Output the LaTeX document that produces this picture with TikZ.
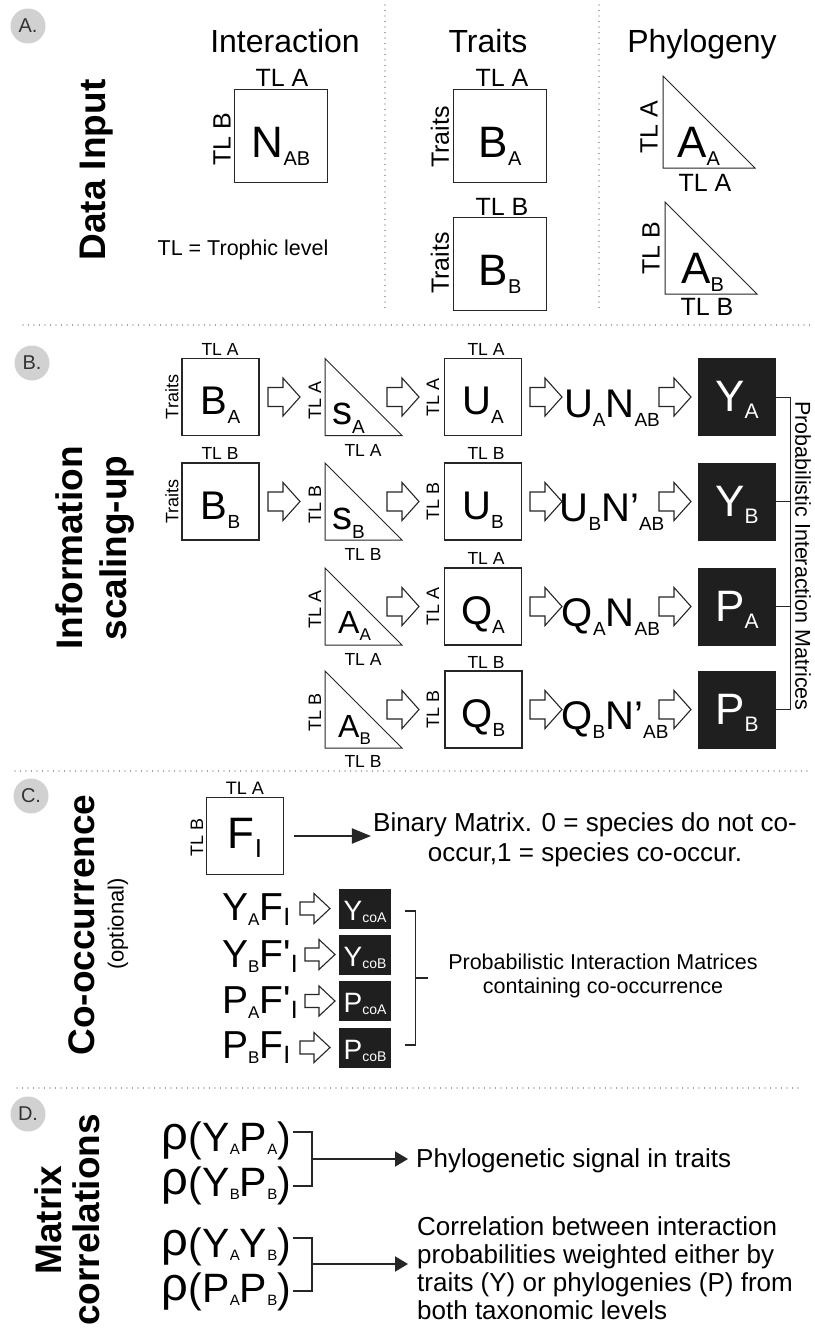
\documentclass[tikz,border=0pt]{standalone}
\usepackage{fontspec}
\setmainfont{Liberation Sans}
\usetikzlibrary{arrows.meta}

\newcommand\mxs[5]{{\fontsize{#1}{#1}\selectfont #4}\raisebox{-#3pt}{\fontsize{#2}{#2}\selectfont #5}}
\newcommand\mxA[2]{\mxs{44}{20}{8}{#1}{#2}}
\newcommand\mxB[2]{\mxs{40}{19}{9}{#1}{#2}}
\newcommand\mxK[2]{\mxs{44}{21}{7}{#1}{#2}}
\newcommand\mxT[2]{\mxs{32}{17}{7}{#1}{#2}}
\newcommand\mxF[2]{\mxs{44}{26}{9}{#1}{#2}}
\newcommand\mxC[2]{\mxs{39}{17}{5}{#1}{#2}}
\newcommand\mxCI[2]{\mxs{39}{25}{5}{#1}{#2}}
\newcommand\mxS[2]{\mxs{28}{14}{2}{#1}{#2}}
\newcommand\mxR[2]{\mxs{41}{15}{3}{#1}{#2}}
\newcommand\rhobig{\raisebox{2pt}{\fontsize{47}{47}\selectfont ρ}\kern1pt}

\tikzset{
  fs/.style={font=\fontsize{#1}{#1}\selectfont},
  fsl/.style 2 args={font=\fontsize{#1}{#2}\selectfont},
  tl/.style={font=\fontsize{#1}{#1}\selectfont, inner sep=0pt},
  sectitle/.style={font=\fontsize{37}{37}\selectfont\bfseries, rotate=90, inner sep=0pt},
  panel/.style={circle, fill=black!18, minimum size=35pt, inner sep=0pt, text=black!80, font=\fontsize{20}{20}\selectfont},
  mbox/.style={draw=black!85, line width=1.1pt, minimum size=#1, inner sep=0pt, text depth=0pt},
  blk/.style={fill=black!88, minimum size=#1, inner sep=0pt, text=white, text depth=0pt},
  sblk/.style={fill=black!88, minimum width=52pt, minimum height=40pt, inner sep=0pt, text=white, text depth=0pt, text height=23pt},
  lab/.style={anchor=base west, inner sep=0pt},
  harr/.style={draw=black!85, line width=1.1pt, fill=white, line join=miter},
  trip/.style={draw=black!85, line width=1pt, line join=miter},
  dots/.style={draw=black!70, line width=1.4pt, line cap=round, dash pattern=on 0pt off 5.5pt},
  brk/.style={draw=black!85, line width=#1},
  pics/bigarrow/.style={code={\draw[harr] (0,-9.5) -- (15,-9.5) -- (15,-19) -- (32,0) -- (15,19) -- (15,9.5) -- (0,9.5) -- cycle;}},
  pics/smallarrow/.style={code={\draw[harr] (0,-6.5) -- (14,-6.5) -- (14,-15) -- (30,0) -- (14,15) -- (14,6.5) -- (0,6.5) -- cycle;}},
  pics/tri/.style={code={\draw[trip] (0,0) -- (0,#1) -- (#1,#1) -- cycle;}},
}

\begin{document}
\begin{tikzpicture}[x=1pt, y=-1pt]
  \useasboundingbox (0,0) rectangle (814,1328);

  % A. data input
  \node[panel] (circA) at (28,26) {A.};
  \node[sectitle] (tdata) at (97,170) {Data Input};
  \node[fs=32] (hint) at (285,41) {Interaction};
  \node[fs=32] (htr) at (488,41) {Traits};
  \node[fs=32] (hph) at (702,44) {Phylogeny};

  \node[mbox=93, text height=42pt] (nab) at (281,136) {\mxA{N}{AB}};
  \node[tl=25] (nabt) at (282,78) {TL A};
  \node[tl=25, rotate=90] (nabl) at (222,139) {TL B};
  \node[fs=21.5] (tldef) at (243,250) {TL = Trophic level};

  \node[mbox=93, text height=42pt] (ba) at (500,136) {\mxA{B}{A}};
  \node[tl=25] (bat) at (502,78) {TL A};
  \node[tl=25, rotate=90] (bal) at (440,137) {Traits};
  \node[mbox=93, text height=42pt] (bb) at (500,264) {\mxA{B}{B}};
  \node[tl=25] (bbt) at (502,207) {TL B};
  \node[tl=25, rotate=90] (bbl) at (440,263) {Traits};

  \pic at (663,76) {tri=92};
  \node[lab] (aa) at (677,157) {\mxA{A}{A}};
  \node[tl=25, rotate=90] (aal) at (649,127) {TL A};
  \node[tl=25] (aab) at (705,183) {TL A};
  \pic at (665,202) {tri=92};
  \node[lab] (ab) at (681,283) {\mxA{A}{B}};
  \node[tl=25, rotate=90] (abl) at (651,248) {TL B};
  \node[tl=25] (abb) at (707,307) {TL B};

  \draw[dots] (385,5) -- (385,310);
  \draw[dots] (599,5) -- (599,310);
  \draw[dots] (23,325) -- (810,325);

  % B. information scaling-up
  \node[panel] (circB) at (32,363) {B.};
  \node[sectitle] (tinf) at (69,548) {Information};
  \node[sectitle] (tscal) at (117,548) {scaling-up};

  \node[mbox=77, text height=35pt] (ba1) at (220.5,397) {\mxB{B}{A}};
  \node[tl=17.5] (ba1t) at (220,349) {TL A};
  \node[tl=18, rotate=90] (ba1l) at (172,397) {Traits};
  \pic at (268,397) {bigarrow};
  \pic at (325,358.5) {tri=77};
  \node[tl=18, rotate=90] (sal) at (315,400) {TL A};
  \node[tl=17.5] (sab) at (363,450) {TL A};
  \node[lab] (sa) at (332,424) {\mxB{s}{A}};
  \pic at (387,397) {bigarrow};
  \node[mbox=77, text height=35pt] (ua) at (483,397) {\mxB{U}{A}};
  \node[tl=17.5] (uat) at (486,349) {TL A};
  \node[tl=18, rotate=90] (ual) at (433,397) {TL A};
  \pic at (530,397) {bigarrow};
  \node[anchor=base, inner sep=0pt] (uan) at (612,417) {\mxB{U}{A}\mxB{N}{AB}};
  \pic at (659,397) {bigarrow};
  \node[blk=78, text height=29pt] (ya) at (737,397) {\mxK{Y}{A}};

  \node[mbox=77, text height=35pt] (bb1) at (220.5,501.5) {\mxB{B}{B}};
  \node[tl=17.5] (bb1t) at (220,453) {TL B};
  \node[tl=18, rotate=90] (bb1l) at (172,501.5) {Traits};
  \pic at (268,501.5) {bigarrow};
  \pic at (325,463) {tri=77};
  \node[tl=18, rotate=90] (sbl) at (315,504.5) {TL B};
  \node[tl=17.5] (sbb) at (363,554) {TL B};
  \node[lab] (sb) at (332,529) {\mxB{s}{B}};
  \pic at (387,501.5) {bigarrow};
  \node[mbox=77, text height=35pt] (ub) at (483,501.5) {\mxB{U}{B}};
  \node[tl=17.5] (ubt) at (486,453) {TL B};
  \node[tl=18, rotate=90] (ubl) at (433,501.5) {TL B};
  \pic at (530,501.5) {bigarrow};
  \node[anchor=base, inner sep=0pt] (ubn) at (612,521.5) {\mxB{U}{B}\mxB{N’}{AB}};
  \pic at (659,501.5) {bigarrow};
  \node[blk=78, text height=29pt] (yb) at (737,501.5) {\mxK{Y}{B}};

  \pic at (325,568) {tri=77};
  \node[tl=18, rotate=90] (aa1l) at (315,609) {TL A};
  \node[tl=17.5] (aa1b) at (363,659) {TL A};
  \node[lab] (aa1) at (338,633) {\mxT{A}{A}};
  \pic at (387,606.5) {bigarrow};
  \node[mbox=77, text height=35pt] (qa) at (483,606.5) {\mxB{Q}{A}};
  \node[tl=17.5] (qat) at (486,558) {TL A};
  \node[tl=18, rotate=90] (qal) at (433,606.5) {TL A};
  \pic at (530,606.5) {bigarrow};
  \node[anchor=base, inner sep=0pt] (qan) at (611,626.5) {\mxB{Q}{A}\mxB{N}{AB}};
  \pic at (659,606.5) {bigarrow};
  \node[blk=78, text height=29pt] (pa1) at (737,606.5) {\mxK{P}{A}};

  \pic at (325,671) {tri=77};
  \node[tl=18, rotate=90] (ab1l) at (315,712) {TL B};
  \node[tl=17.5] (ab1b) at (363,761) {TL B};
  \node[lab] (ab1) at (338,737) {\mxT{A}{B}};
  \pic at (387,709.5) {bigarrow};
  \node[mbox=77, text height=35pt] (qb) at (483.5,709.5) {\mxB{Q}{B}};
  \node[tl=17.5] (qbt) at (486,662) {TL B};
  \node[tl=18, rotate=90] (qbl) at (433,709.5) {TL B};
  \pic at (530,709.5) {bigarrow};
  \node[anchor=base, inner sep=0pt] (qbn) at (615,729.5) {\mxB{Q}{B}\mxB{N’}{AB}};
  \pic at (659,709.5) {bigarrow};
  \node[blk=78, text height=29pt] (pb1) at (737,709.5) {\mxK{P}{B}};

  \draw[brk=1pt] (ya.east) -- ++(14,0) |- (pb1.east);
  \draw[brk=1pt] (yb.east) -- ++(14,0);
  \draw[brk=1pt] (pa1.east) -- ++(14,0);
  \node[fs=21.5, rotate=-90, inner sep=0pt] (pim) at (803,556) {Probabilistic Interaction Matrices};

  \draw[dots] (15,771) -- (812,771);

  % C. co-occurrence
  \node[panel] (circC) at (31,796) {C.};
  \node[sectitle] (tco) at (82,925) {Co-occurrence};
  \node[fs=22, rotate=90, inner sep=0pt] (topt) at (118,924) {(optional)};

  \node[mbox=77, text height=24pt] (fi) at (245,836) {\mxF{F}{I}};
  \node[tl=18] (fit) at (245,788) {TL A};
  \node[tl=18, rotate=90] (fil) at (197,837) {TL B};
  \node[fsl={26}{30}, align=center, inner sep=0pt] (bin) at (585,840) {Binary Matrix. 0 = species do not co-\\occur,1 = species co-occur.};
  \draw[brk=2pt, -{Triangle[length=19pt, width=15pt]}, shorten <=10pt, shorten >=2pt] (fi.east) -- (fi.east -| bin.west);

  \node[lab] (r1) at (222,920) {\mxC{Y}{A}\mxCI{F}{I}};
  \node[lab] (r2) at (222,967) {\mxC{Y}{B}\mxCI{F\textquotesingle}{I}};
  \node[lab] (r3) at (222,1013) {\mxC{P}{A}\mxCI{F\textquotesingle}{I}};
  \node[lab] (r4) at (222,1058) {\mxC{P}{B}\mxCI{F}{I}};
  \pic at (300,908.5) {smallarrow};
  \pic at (305,954.5) {smallarrow};
  \pic at (305,1001) {smallarrow};
  \pic at (300,1047.5) {smallarrow};
  \node[sblk] (ycoa) at (365,908.5) {\mxS{Y}{coA}};
  \node[sblk] (ycob) at (365,954.5) {\mxS{Y}{coB}};
  \node[sblk] (pcoa) at (365,1001) {\mxS{P}{coA}};
  \node[sblk] (pcob) at (365,1047.5) {\mxS{P}{coB}};

  \draw[brk=1.3pt] ([shift={(14,2.5)}]ycoa.east) -- ++(10,0) |- ([shift={(14,-2.5)}]pcob.east);
  \coordinate (cmid) at (415,978);
  \draw[brk=1.3pt] (cmid) -- ++(13,0);
  \node[fsl={21.5}{24}, align=center, inner sep=0pt] (pimco) at (603,976) {Probabilistic Interaction Matrices\\containing co-occurrence};

  \draw[dots] (17,1088) -- (802,1088);

  % D. matrix correlations
  \node[panel] (circD) at (28,1114) {D.};
  \node[sectitle] (tmat) at (48,1220) {Matrix};
  \node[sectitle] (tcorr) at (86,1220) {correlations};

  \node[fs=41, lab] (rho1) at (161,1151) {\rhobig(\mxR{Y}{A}\mxR{P}{A})};
  \node[fs=41, lab] (rho2) at (161,1196) {\rhobig(\mxR{Y}{B}\mxR{P}{B})};
  \node[fs=41, lab] (rho3) at (161,1257) {\rhobig(\mxR{Y}{A}\mxR{Y}{B})};
  \node[fs=41, lab] (rho4) at (161,1302) {\rhobig(\mxR{P}{A}\mxR{P}{B})};
  \coordinate (j1) at (312,1159);
  \coordinate (j2) at (312,1264);
  \draw[brk=2pt] ([shift={(2,-19)}]rho1.base east) -| (j1) |- ([shift={(2,-10)}]rho2.base east);
  \draw[brk=2pt] ([shift={(2,-19)}]rho3.base east) -| (j2) |- ([shift={(2,-11)}]rho4.base east);

  \node[fs=26, anchor=base west, inner xsep=8pt, inner ysep=0pt] (sig) at (408,1167) {Phylogenetic signal in traits};
  \draw[brk=2pt, -{Triangle[length=13pt, width=15pt]}] (j1) -- (j1 -| sig.west);
  \node[fsl={26}{28}, align=left, anchor=west, inner xsep=9pt, inner ysep=0pt] (corrt) at (408,1268) {Correlation between interaction\\probabilities weighted either by\\traits (Y) or phylogenies (P) from\\both taxonomic levels};
  \draw[brk=2pt, -{Triangle[length=13pt, width=15pt]}] (j2) -- (j2 -| corrt.west);
\end{tikzpicture}
\end{document}
